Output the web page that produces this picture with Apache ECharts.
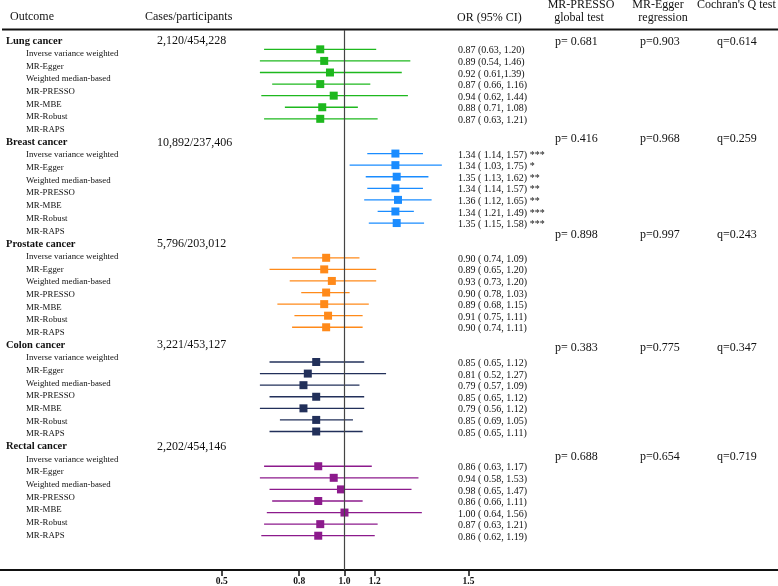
<!DOCTYPE html>
<html><head><meta charset="utf-8">
<script src="https://cdn.jsdelivr.net/npm/echarts@6/dist/echarts.min.js"></script>
<style>html,body{margin:0;padding:0;background:#fff}#c{width:778px;height:586px}</style>
</head><body><div id="c"></div><script>
// ---------- data ----------
const outcomes = ['Lung cancer','Breast cancer','Prostate cancer','Colon cancer','Rectal cancer'];
const casesParticipants = ['2,120/454,228','10,892/237,406','5,796/203,012','3,221/453,127','2,202/454,146'];
const methods = ['Inverse variance weighted','MR-Egger','Weighted median-based','MR-PRESSO','MR-MBE','MR-Robust','MR-RAPS'];

const lungOR = [0.87,0.89,0.92,0.87,0.94,0.88,0.87];
const lungLo = [0.63,0.54,0.61,0.66,0.62,0.71,0.63];
const lungHi = [1.20,1.46,1.39,1.16,1.44,1.08,1.21];
const lungText = ['0.87 (0.63, 1.20)','0.89 (0.54, 1.46)','0.92 ( 0.61,1.39)','0.87 ( 0.66, 1.16)','0.94 ( 0.62, 1.44)','0.88 ( 0.71, 1.08)','0.87 ( 0.63, 1.21)'];

const breastOR = [1.34,1.34,1.35,1.34,1.36,1.34,1.35];
const breastLo = [1.14,1.03,1.13,1.14,1.12,1.21,1.15];
const breastHi = [1.57,1.75,1.62,1.57,1.65,1.49,1.58];
const breastText = ['1.34 ( 1.14, 1.57) ***','1.34 ( 1.03, 1.75) *','1.35 ( 1.13, 1.62) **','1.34 ( 1.14, 1.57) **','1.36 ( 1.12, 1.65) **','1.34 ( 1.21, 1.49) ***','1.35 ( 1.15, 1.58) ***'];

const prostateOR = [0.90,0.89,0.93,0.90,0.89,0.91,0.90];
const prostateLo = [0.74,0.65,0.73,0.78,0.68,0.75,0.74];
const prostateHi = [1.09,1.20,1.20,1.03,1.15,1.11,1.11];
const prostateText = ['0.90 ( 0.74, 1.09)','0.89 ( 0.65, 1.20)','0.93 ( 0.73, 1.20)','0.90 ( 0.78, 1.03)','0.89 ( 0.68, 1.15)','0.91 ( 0.75, 1.11)','0.90 ( 0.74, 1.11)'];

const colonOR = [0.85,0.81,0.79,0.85,0.79,0.85,0.85];
const colonLo = [0.65,0.52,0.57,0.65,0.56,0.69,0.65];
const colonHi = [1.12,1.27,1.09,1.12,1.12,1.05,1.11];
const colonText = ['0.85 ( 0.65, 1.12)','0.81 ( 0.52, 1.27)','0.79 ( 0.57, 1.09)','0.85 ( 0.65, 1.12)','0.79 ( 0.56, 1.12)','0.85 ( 0.69, 1.05)','0.85 ( 0.65, 1.11)'];

const rectalOR = [0.86,0.94,0.98,0.86,1.00,0.87,0.86];
const rectalLo = [0.63,0.58,0.65,0.66,0.64,0.63,0.62];
const rectalHi = [1.17,1.53,1.47,1.11,1.56,1.21,1.19];
const rectalText = ['0.86 ( 0.63, 1.17)','0.94 ( 0.58, 1.53)','0.98 ( 0.65, 1.47)','0.86 ( 0.66, 1.11)','1.00 ( 0.64, 1.56)','0.87 ( 0.63, 1.21)','0.86 ( 0.62, 1.19)'];

const pressoP = ['p= 0.681','p= 0.416','p= 0.898','p= 0.383','p= 0.688'];
const eggerP = ['p=0.903','p=0.968','p=0.997','p=0.775','p=0.654'];
const cochranQ = ['q=0.614','q=0.259','q=0.243','q=0.347','q=0.719'];

const tickValues = [0.494, 0.771, 1.0, 1.19, 2.04];
const tickLabels = ['0.5','0.8','1.0','1.2','1.5'];

// ---------- layout / style ----------
const groupColors = ['#1EB81E','#1A8CFF','#FF8A1A','#22305A','#8C1A8C'];
const FONT = '"Liberation Serif", "Times New Roman", serif';
const CLIP_LO = 0.615;          // lines are cut at the left of the forest panel
const TEXT_Y0 = 41, TEXT_STEP = 12.68;
const statsY = [41.7, 139, 235, 348, 457];

const groups = [
  {or: lungOR, lo: lungLo, hi: lungHi, txt: lungText},
  {or: breastOR, lo: breastLo, hi: breastHi, txt: breastText},
  {or: prostateOR, lo: prostateLo, hi: prostateHi, txt: prostateText},
  {or: colonOR, lo: colonLo, hi: colonHi, txt: colonText},
  {or: rectalOR, lo: rectalLo, hi: rectalHi, txt: rectalText}
];

const series = [];
groups.forEach((g, gi) => {
  const color = groupColors[gi];
  const ci = g.or.map((v, j) => [g.lo[j], g.hi[j], gi * 9 + j]);
  series.push({
    type: 'custom', silent: true, clip: false, z: 2,
    encode: {x: [0, 1], y: 2},
    data: ci,
    renderItem: (params, api) => {
      const y = api.value(2);
      const p0 = api.coord([Math.max(api.value(0), CLIP_LO), y]);
      const p1 = api.coord([api.value(1), y]);
      return {type: 'line', shape: {x1: p0[0], y1: p0[1], x2: p1[0], y2: p1[1]},
              style: {stroke: color, lineWidth: 1.3}};
    }
  });
  series.push({
    type: 'scatter', silent: true, z: 3,
    symbol: 'rect', symbolSize: 8,
    itemStyle: {color: color, opacity: 1},
    data: g.or.map((v, j) => [v, gi * 9 + j])
  });
  series.push({
    type: 'custom', silent: true, clip: false, z: 4,
    encode: {x: 0, y: 1},
    data: g.or.map((v, j) => [v, gi * 9 + j, j]),
    renderItem: (params, api) => {
      const p = api.coord([1, api.value(1)]);
      return {type: 'text', x: 458, y: p[1] + 1.5,
              style: {text: g.txt[api.value(2)], fill: '#111', font: '10px ' + FONT,
                      align: 'left', verticalAlign: 'middle', textAlign: 'left', textVerticalAlign: 'middle'}};
    }
  });
});
// reference line at OR = 1
series[0].markLine = {
  silent: true, symbol: 'none', label: {show: false},
  lineStyle: {color: '#444', width: 1.2, type: 'solid'},
  data: [{xAxis: 1}]
};

// ---------- text graphics ----------
const graphics = [];
function txt(s, x, y, size, opts) {
  opts = opts || {};
  graphics.push({type: 'text', x: x, y: y, silent: true,
    style: {text: s, fill: '#111', font: (opts.weight || 'normal') + ' ' + size + 'px ' + FONT,
            textAlign: opts.align || 'left', textVerticalAlign: 'middle',
            align: opts.align || 'left', verticalAlign: 'middle'}});
}
txt('Outcome', 10, 17, 12);
txt('Cases/participants', 145, 17, 12);
txt('OR (95% CI)', 457, 18, 12);
txt('MR-PRESSO', 581, 5, 12, {align: 'center'});
txt('global test', 579, 18, 12, {align: 'center'});
txt('MR-Egger', 658, 5, 12, {align: 'center'});
txt('regression', 663, 18, 12, {align: 'center'});
txt("Cochran's Q test", 697, 5, 12);
graphics.push({type: 'line', silent: true, shape: {x1: 2, y1: 29.5, x2: 778, y2: 29.5},
               style: {stroke: '#111', lineWidth: 2}});
outcomes.forEach((o, gi) => {
  const yh = TEXT_Y0 + gi * 8 * TEXT_STEP;
  txt(o, 6, yh, 10.5, {weight: 'bold'});
  txt(casesParticipants[gi], 157, yh, 12);
  methods.forEach((m, j) => txt(m, 26, yh + (j + 1) * TEXT_STEP, 8.8));
  txt(pressoP[gi], 555, statsY[gi], 12);
  txt(eggerP[gi], 640, statsY[gi], 12);
  txt(cochranQ[gi], 717, statsY[gi], 12);
});

const chart = echarts.init(document.getElementById('c'), null, {renderer: 'canvas'});
chart.setOption({
  animation: false,
  backgroundColor: '#fff',
  grid: {left: 0, right: 0, top: 30, bottom: 16, containLabel: false, outerBoundsMode: 'none'},
  xAxis: {
    type: 'log', logBase: Math.E, min: 0.1381, max: 12.08,
    axisLine: {show: true, onZero: false, lineStyle: {color: '#111', width: 2}},
    axisTick: {show: true, customValues: tickValues, length: 6, lineStyle: {color: '#111', width: 1.5}},
    axisLabel: {show: true, customValues: tickValues, margin: 7,
      fontFamily: FONT, fontWeight: 'bold', fontSize: 9.5, color: '#111',
      formatter: (v) => {
        let bi = 0;
        tickValues.forEach((t, i) => { if (Math.abs(t - v) < Math.abs(tickValues[bi] - v)) bi = i; });
        return tickLabels[bi];
      }},
    splitLine: {show: false}
  },
  yAxis: {
    type: 'value', inverse: true, min: -1.67, max: 44.96,
    show: false, splitLine: {show: false}
  },
  series: series,
  graphic: graphics
});
</script></body></html>
